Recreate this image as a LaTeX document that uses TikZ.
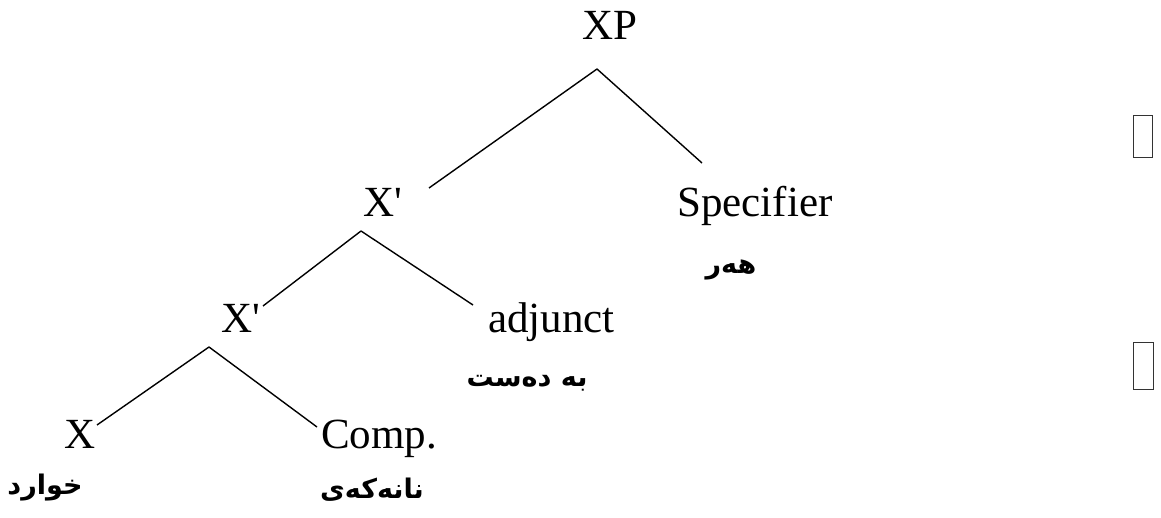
\documentclass[tikz,border=0pt]{standalone}
\usepackage{fontspec}
\setmainfont{Liberation Serif}
\TeXXeTstate=1
\newfontfamily\arabicfont[Script=Arabic]{DejaVu Sans}
\begin{document}
\begin{tikzpicture}[x=1pt,y=-1pt,
  lab/.style={font=\fontsize{43}{43}\selectfont, inner sep=0pt, anchor=base west},
  ar/.style={font=\arabicfont\bfseries\fontsize{27}{27}\selectfont, inner sep=0pt, anchor=center},
  branch/.style={line width=1.4pt, black},
  tofu/.style={draw=black!80, line width=0.8pt}]
\useasboundingbox (0,0) rectangle (1161,518);
% labels
\node[lab] (XP) at (582,40) {XP};
\node[lab] (Xb1) at (363,217) {X\textquotesingle};
\node[lab] (Spec) at (677,217) {Specifier};
\node[lab] (Xb2) at (221,333) {X\textquotesingle};
\node[lab] (Adj) at (488,333) {adjunct};
\node[lab] (X) at (64,448) {X};
\node[lab] (Comp) at (321,448) {Comp.};
% Kurdish glosses
\node[ar] (gSpec) at (731,270) {\beginR هەر\endR};
\node[ar] (gAdj) at (527,383) {\beginR به دەست\endR};
\node[ar] (gComp) at (372,490) {\beginR نانەکەی\endR};
\node[ar] (gX) at (45,488) {\beginR خوارد\endR};
% branch points
\coordinate (XPa) at (597,69);
\coordinate (Xb1e) at (429,188);
\coordinate (Spece) at (702,163);
\coordinate (Xb1a) at (361,231);
\coordinate (Xb2e) at (263,306);
\coordinate (Adje) at (473,305);
\coordinate (Xb2a) at (209,347);
\coordinate (Xe) at (97,425);
\coordinate (Compe) at (317,427);
\draw[branch] (XPa) -- (Xb1e);
\draw[branch] (XPa) -- (Spece);
\draw[branch] (Xb1a) -- (Xb2e);
\draw[branch] (Xb1a) -- (Adje);
\draw[branch] (Xb2a) -- (Xe);
\draw[branch] (Xb2a) -- (Compe);
% missing-glyph boxes
\node[tofu, inner sep=0pt, minimum width=19pt, minimum height=42pt] (box1) at (1142.5,136) {};
\node[tofu, inner sep=0pt, minimum width=20pt, minimum height=47pt] (box2) at (1143,365.5) {};
\end{tikzpicture}
\end{document}
